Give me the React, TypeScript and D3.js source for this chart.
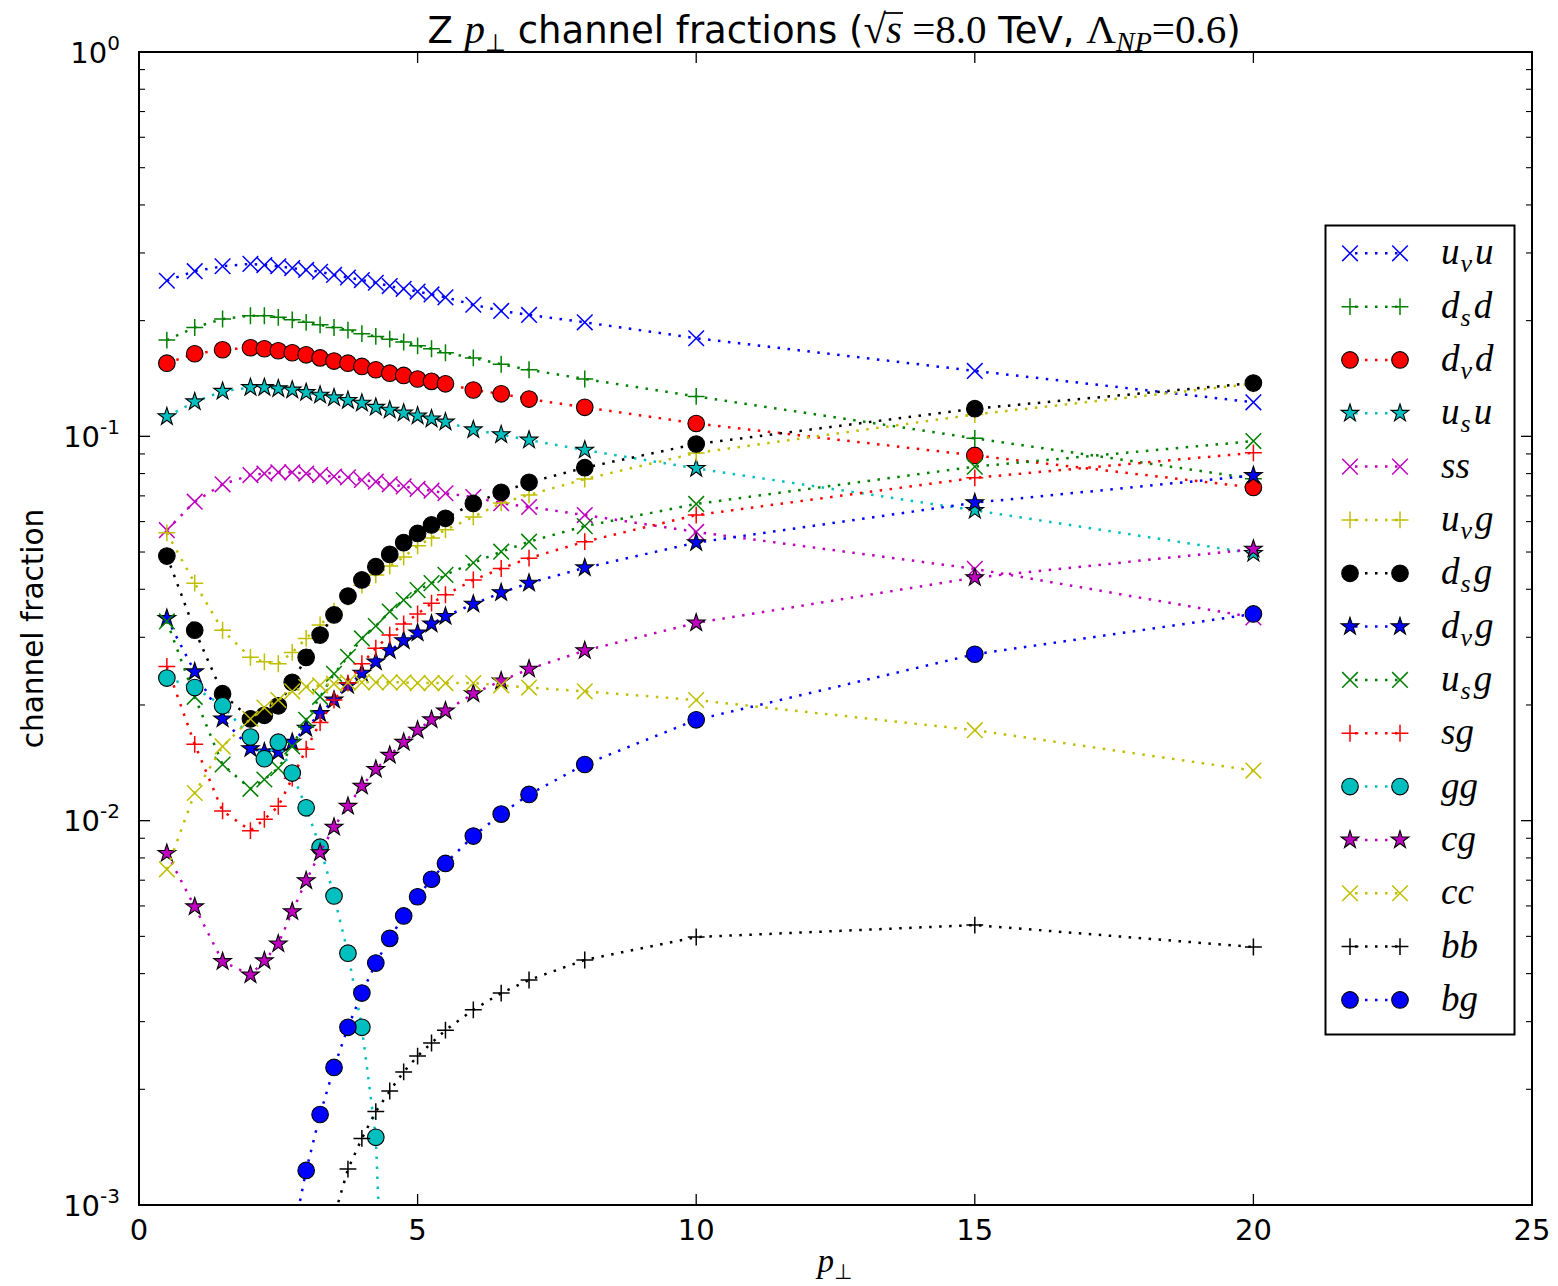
import React, { useEffect, useRef } from 'react';
import * as d3 from 'd3';

const W = 1558;
const H = 1286;
const AX = { left: 139, right: 1532, top: 52, bottom: 1205 };
const SERIF = '"Liberation Serif", "DejaVu Serif", serif';
const SANS = '"DejaVu Sans", sans-serif';

// p_perp sample points
const pt = [0.5, 1, 1.5, 2, 2.25, 2.5, 2.75, 3, 3.25, 3.5, 3.75, 4, 4.25, 4.5, 4.75, 5, 5.25, 5.5, 6, 6.5, 7, 8, 10, 15, 20];

// channel fractions (null = below the axis range)
const uvu = [0.254, 0.269, 0.277, 0.281, 0.279, 0.277, 0.274, 0.271, 0.268, 0.263, 0.259, 0.255, 0.251, 0.246, 0.242, 0.238, 0.234, 0.230, 0.220, 0.212, 0.207, 0.198, 0.180, 0.148, 0.1226];
const dsd = [0.178, 0.192, 0.202, 0.206, 0.206, 0.204, 0.201, 0.198, 0.195, 0.192, 0.189, 0.185, 0.182, 0.179, 0.176, 0.172, 0.169, 0.165, 0.160, 0.154, 0.149, 0.141, 0.127, 0.0988, 0.0776];
const dvd = [0.155, 0.164, 0.168, 0.170, 0.169, 0.167, 0.165, 0.163, 0.160, 0.157, 0.155, 0.152, 0.149, 0.146, 0.144, 0.141, 0.139, 0.137, 0.132, 0.129, 0.125, 0.119, 0.108, 0.0892, 0.0736];
const usu = [0.1125, 0.123, 0.131, 0.134, 0.134, 0.133, 0.132, 0.130, 0.128, 0.126, 0.124, 0.122, 0.119, 0.117, 0.115, 0.113, 0.111, 0.109, 0.104, 0.101, 0.0978, 0.0921, 0.0825, 0.0642, 0.0496];
const ss = [0.057, 0.0676, 0.075, 0.0793, 0.080, 0.0806, 0.0806, 0.080, 0.0793, 0.0786, 0.0782, 0.077, 0.0762, 0.075, 0.0741, 0.073, 0.0722, 0.0711, 0.0695, 0.067, 0.0655, 0.0624, 0.0564, 0.0452, 0.0338];
const uvg = [0.0561, 0.0415, 0.0313, 0.0266, 0.0259, 0.0256, 0.0274, 0.0298, 0.0323, 0.0351, 0.0382, 0.0410, 0.0436, 0.0460, 0.0485, 0.0519, 0.0544, 0.0571, 0.0617, 0.0671, 0.0704, 0.0774, 0.0905, 0.114, 0.137];
const dsg = [0.0488, 0.0313, 0.0214, 0.0184, 0.0188, 0.0199, 0.0229, 0.0266, 0.0304, 0.0343, 0.0384, 0.0423, 0.0458, 0.0493, 0.0529, 0.0559, 0.0588, 0.0612, 0.0669, 0.0715, 0.0759, 0.0829, 0.0955, 0.118, 0.1376];
const dvg = [0.0336, 0.0244, 0.0184, 0.0154, 0.0151, 0.0151, 0.0160, 0.0174, 0.0190, 0.0206, 0.0225, 0.0242, 0.0259, 0.0277, 0.0294, 0.0308, 0.0325, 0.0340, 0.0366, 0.0392, 0.0415, 0.0455, 0.0529, 0.0672, 0.0791];
const usg = [0.0330, 0.0210, 0.0140, 0.0121, 0.0128, 0.0137, 0.0156, 0.0183, 0.0210, 0.0241, 0.0267, 0.0298, 0.0321, 0.0350, 0.0375, 0.0398, 0.0415, 0.0436, 0.0469, 0.0501, 0.0532, 0.0584, 0.0667, 0.0834, 0.0972];
const sg = [0.0252, 0.0158, 0.0106, 0.00942, 0.01008, 0.0109, 0.0129, 0.01534, 0.0180, 0.0206, 0.0228, 0.0256, 0.0281, 0.0304, 0.0325, 0.0345, 0.0368, 0.0387, 0.0423, 0.0453, 0.0482, 0.0532, 0.0624, 0.0780, 0.0906];
const gg = [0.0235, 0.0222, 0.0199, 0.0165, 0.0145, 0.0160, 0.0133, 0.0108, 0.00853, 0.00637, 0.00452, 0.00290, 0.00150, 0.00018, null, null, null, null, null, null, null, null, null, null, null];
const cg = [0.00822, 0.00597, 0.00430, 0.00397, 0.00432, 0.00478, 0.00580, 0.00698, 0.00826, 0.00962, 0.0109, 0.0123, 0.0136, 0.0148, 0.0160, 0.0172, 0.0183, 0.0193, 0.0214, 0.0231, 0.0248, 0.0277, 0.0327, 0.0429, 0.0509];
const cc = [0.00747, 0.0118, 0.0156, 0.0184, 0.0197, 0.0206, 0.0217, 0.0223, 0.0225, 0.0227, 0.0229, 0.0229, 0.0229, 0.0229, 0.0229, 0.0228, 0.0228, 0.0228, 0.0228, 0.0225, 0.0222, 0.0217, 0.0206, 0.0172, 0.0135];
const bb = [null, null, null, null, null, null, null, null, 0.0005, 0.00093, 0.00124, 0.00149, 0.00175, 0.00198, 0.00222, 0.00244, 0.00264, 0.00285, 0.00322, 0.00356, 0.00385, 0.00434, 0.00498, 0.00535, 0.00469];
const bg = [null, null, null, null, null, null, 0.00081, 0.00123, 0.00172, 0.00228, 0.00290, 0.00356, 0.00426, 0.00494, 0.00565, 0.00634, 0.00704, 0.00774, 0.00912, 0.0104, 0.0117, 0.0140, 0.0183, 0.0271, 0.0345];

const xTicks = [0, 5, 10, 15, 20, 25];
const yDecades = [-3, -2, -1, 0];

type Marker = 'x' | '+' | 'o' | '*';
interface Series { values: (number | null)[]; color: string; marker: Marker; label: string[] }

const series: Series[] = [
  { values: uvu, color: '#0000ff', marker: 'x', label: ['u', 'v', 'u'] },
  { values: dsd, color: '#008000', marker: '+', label: ['d', 's', 'd'] },
  { values: dvd, color: '#ff0000', marker: 'o', label: ['d', 'v', 'd'] },
  { values: usu, color: '#00bfbf', marker: '*', label: ['u', 's', 'u'] },
  { values: ss, color: '#bf00bf', marker: 'x', label: ['ss'] },
  { values: uvg, color: '#bfbf00', marker: '+', label: ['u', 'v', 'g'] },
  { values: dsg, color: '#000000', marker: 'o', label: ['d', 's', 'g'] },
  { values: dvg, color: '#0000ff', marker: '*', label: ['d', 'v', 'g'] },
  { values: usg, color: '#008000', marker: 'x', label: ['u', 's', 'g'] },
  { values: sg, color: '#ff0000', marker: '+', label: ['sg'] },
  { values: gg, color: '#00bfbf', marker: 'o', label: ['gg'] },
  { values: cg, color: '#bf00bf', marker: '*', label: ['cg'] },
  { values: cc, color: '#bfbf00', marker: 'x', label: ['cc'] },
  { values: bb, color: '#000000', marker: '+', label: ['bb'] },
  { values: bg, color: '#0000ff', marker: 'o', label: ['bg'] },
];

function starPath(cx: number, cy: number, R: number) {
  const r = R * 0.381966;
  const pts: string[] = [];
  for (let k = 0; k < 10; k++) {
    const a = -Math.PI / 2 + (k * Math.PI) / 5;
    const rr = k % 2 === 0 ? R : r;
    pts.push(`${cx + rr * Math.cos(a)},${cy + rr * Math.sin(a)}`);
  }
  return 'M' + pts.join('L') + 'Z';
}

function drawMarker(g: d3.Selection<SVGGElement, unknown, null, undefined>, m: Marker, color: string, cx: number, cy: number) {
  const s = 7.8;
  if (m === 'o') {
    g.append('circle').attr('cx', cx).attr('cy', cy).attr('r', 8.3)
      .attr('fill', color).attr('stroke', '#000').attr('stroke-width', 1.1);
  } else if (m === '*') {
    g.append('path').attr('d', starPath(cx, cy, 9.3))
      .attr('fill', color).attr('stroke', '#000').attr('stroke-width', 1.1);
  } else if (m === 'x') {
    g.append('path').attr('d', `M${cx - s},${cy - s}L${cx + s},${cy + s}M${cx - s},${cy + s}L${cx + s},${cy - s}`)
      .attr('stroke', color).attr('stroke-width', 1.5).attr('fill', 'none');
  } else {
    const p = s * 1.08;
    g.append('path').attr('d', `M${cx - p},${cy}L${cx + p},${cy}M${cx},${cy - p}L${cx},${cy + p}`)
      .attr('stroke', color).attr('stroke-width', 1.5).attr('fill', 'none');
  }
}

const App: React.FC = () => {
  const svgRef = useRef<SVGSVGElement>(null);

  useEffect(() => {
    if (!svgRef.current) return;
    const svg = d3.select(svgRef.current);
    svg.selectAll('*').remove();

    const x = d3.scaleLinear().domain([0, 25]).range([AX.left, AX.right]);
    const y = d3.scaleLog().domain([1e-3, 1]).range([AX.bottom, AX.top]);

    svg.append('rect').attr('width', W).attr('height', H).attr('fill', '#fff');

    svg.append('defs').append('clipPath').attr('id', 'axclip')
      .append('rect').attr('x', AX.left).attr('y', AX.top)
      .attr('width', AX.right - AX.left).attr('height', AX.bottom - AX.top);

    // data
    const plot = svg.append('g').attr('clip-path', 'url(#axclip)');
    series.forEach(s => {
      const line = d3.line<number | null>()
        .defined(v => v != null && v > 0)
        .x((_, i) => x(pt[i]))
        .y(v => y(v as number));
      plot.append('path').attr('d', line(s.values) || '')
        .attr('fill', 'none').attr('stroke', s.color)
        .attr('stroke-width', 2.5).attr('stroke-dasharray', '2.5,7.5');
      const mg = plot.append('g');
      s.values.forEach((v, i) => {
        if (v == null || v <= 0) return;
        drawMarker(mg, s.marker, s.color, x(pt[i]), y(v));
      });
    });

    // ticks
    const tk = svg.append('g').attr('stroke', '#000');
    xTicks.forEach(t => {
      const px = x(t);
      tk.append('line').attr('x1', px).attr('x2', px).attr('y1', AX.bottom).attr('y2', AX.bottom - 11).attr('stroke-width', 1.3);
      tk.append('line').attr('x1', px).attr('x2', px).attr('y1', AX.top).attr('y2', AX.top + 11).attr('stroke-width', 1.3);
    });
    yDecades.forEach(e => {
      const py = y(Math.pow(10, e));
      tk.append('line').attr('x1', AX.left).attr('x2', AX.left + 11).attr('y1', py).attr('y2', py).attr('stroke-width', 1.3);
      tk.append('line').attr('x1', AX.right).attr('x2', AX.right - 11).attr('y1', py).attr('y2', py).attr('stroke-width', 1.3);
      if (e < 0) {
        for (let m = 2; m <= 9; m++) {
          const pm = y(m * Math.pow(10, e));
          tk.append('line').attr('x1', AX.left).attr('x2', AX.left + 6).attr('y1', pm).attr('y2', pm).attr('stroke-width', 1.1);
          tk.append('line').attr('x1', AX.right).attr('x2', AX.right - 6).attr('y1', pm).attr('y2', pm).attr('stroke-width', 1.1);
        }
      }
    });

    // spines
    svg.append('rect').attr('x', AX.left).attr('y', AX.top)
      .attr('width', AX.right - AX.left).attr('height', AX.bottom - AX.top)
      .attr('fill', 'none').attr('stroke', '#000').attr('stroke-width', 2);

    // tick labels
    xTicks.forEach(t => {
      svg.append('text').attr('x', x(t)).attr('y', AX.bottom + 35)
        .attr('text-anchor', 'middle').attr('font-family', SANS).attr('font-size', 29)
        .text(String(t));
    });
    yDecades.forEach(e => {
      const py = y(Math.pow(10, e));
      const t = svg.append('text').attr('x', 120).attr('y', py + 10.5)
        .attr('text-anchor', 'end').attr('font-family', SANS).attr('font-size', 29);
      t.append('tspan').text('10');
      t.append('tspan').attr('font-size', 20).attr('dy', -13).text(String(e));
    });

    // axis labels
    const xl = svg.append('text').attr('x', 835).attr('y', 1272).attr('text-anchor', 'middle').attr('font-size', 33);
    xl.append('tspan').attr('font-family', SERIF).attr('font-style', 'italic').text('p');
    xl.append('tspan').attr('font-family', SANS).attr('font-size', 21).attr('dy', 7).text('⊥');

    svg.append('text').attr('transform', `translate(43,${(AX.top + AX.bottom) / 2}) rotate(-90)`)
      .attr('text-anchor', 'middle').attr('font-family', SANS).attr('font-size', 29.5)
      .text('channel fraction');

    // title
    const ty = 43;
    const ti = svg.append('text').attr('x', 834).attr('y', ty).attr('text-anchor', 'middle')
      .attr('font-family', SANS).attr('font-size', 37);
    ti.append('tspan').text('Z ');
    ti.append('tspan').attr('font-family', SERIF).attr('font-style', 'italic').attr('font-size', 41).text('p');
    ti.append('tspan').attr('font-size', 24).attr('dy', 8).text('⊥');
    ti.append('tspan').attr('dy', -8).text(' channel fractions (');
    const rad = ti.append('tspan').attr('font-family', SERIF).attr('font-size', 41).text('√');
    const sv = ti.append('tspan').attr('font-family', SERIF).attr('font-style', 'italic').attr('font-size', 41).text('s');
    ti.append('tspan').attr('font-family', SERIF).attr('font-size', 41).text(' =8.0');
    ti.append('tspan').text(' TeV, ');
    ti.append('tspan').attr('font-family', SERIF).attr('font-size', 41).text('Λ');
    ti.append('tspan').attr('font-family', SERIF).attr('font-style', 'italic').attr('font-size', 28).attr('dy', 8).text('NP');
    ti.append('tspan').attr('font-family', SERIF).attr('font-size', 41).attr('dy', -8).text('=0.6');
    ti.append('tspan').text(')');
    try {
      const rn = rad.node() as SVGTextContentElement;
      const sn = sv.node() as SVGTextContentElement;
      const x0 = rn.getEndPositionOfChar(0).x - 2;
      const x1 = sn.getEndPositionOfChar(0).x + 1;
      svg.append('line').attr('x1', x0).attr('x2', x1).attr('y1', ty - 30).attr('y2', ty - 30)
        .attr('stroke', '#000').attr('stroke-width', 1.8);
    } catch (err) { /* measurement unavailable */ }

    // legend
    const lg = svg.append('g');
    lg.append('rect').attr('x', 1325.5).attr('y', 225.5).attr('width', 189).attr('height', 809)
      .attr('fill', '#fff').attr('stroke', '#000').attr('stroke-width', 2);
    series.forEach((s, i) => {
      const cy = 253.3 + i * 53.33;
      lg.append('line').attr('x1', 1350).attr('x2', 1400).attr('y1', cy).attr('y2', cy)
        .attr('stroke', s.color).attr('stroke-width', 2.5).attr('stroke-dasharray', '2.5,7.5')
        .attr('stroke-dashoffset', -5);
      drawMarker(lg, s.marker, s.color, 1350, cy);
      drawMarker(lg, s.marker, s.color, 1400, cy);
      const t = lg.append('text').attr('x', 1441).attr('y', cy + 11)
        .attr('font-family', SERIF).attr('font-style', 'italic').attr('font-size', 37);
      t.append('tspan').text(s.label[0]);
      if (s.label.length > 1) {
        t.append('tspan').attr('font-size', 26).attr('dy', 8).attr('dx', 1).text(s.label[1]);
        t.append('tspan').attr('dy', -8).attr('dx', 3).text(s.label[2]);
      }
    });
  }, []);

  return (
    <svg ref={svgRef} width={W} height={H}
      style={{ position: 'absolute', left: 0, top: 0, display: 'block' }} />
  );
};

export default App;
